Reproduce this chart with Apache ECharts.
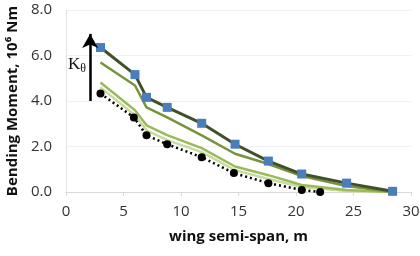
<!DOCTYPE html>
<html>
<head>
<meta charset="utf-8">
<script src="https://cdn.jsdelivr.net/npm/echarts@6/dist/echarts.min.js"></script>
<style>
	html, body { margin: 0; padding: 0; background: #fff; }
	#chart { width: 420px; height: 256px; }
</style>
</head>
<body>
<div id="chart"></div>
<script>
// positions along the semi-span (m)
var spanX = [3, 6, 7, 8.8, 11.8, 14.7, 17.6, 20.5, 24.4, 28.4];
var dotX = [3, 5.9, 7, 8.8, 11.8, 14.6, 17.6, 20.5, 22.1];

// bending moment, 10^6 Nm
var darkLine = [6.35, 5.16, 4.16, 3.72, 3.02, 2.10, 1.36, 0.79, 0.39, 0.03];
var midLine = [5.69, 4.68, 3.72, 3.28, 2.49, 1.68, 1.23, 0.70, 0.26, 0.0];
var lightLine = [4.81, 3.59, 2.93, 2.50, 1.93, 1.12, 0.74, 0.31, 0.09, 0.0];
var paleLine = [4.60, 3.37, 2.71, 2.28, 1.75, 0.96, 0.57, 0.22, 0.04, 0.0];
var dotLine = [4.33, 3.28, 2.49, 2.10, 1.53, 0.83, 0.39, 0.09, 0.0];

var xTicks = [0, 5, 10, 15, 20, 25, 30];
var yTicks = [0, 2, 4, 6, 8];

// arrow for K_theta (x, from y, to y)
var arrowX = 2.1;
var arrowFrom = 4.0;
var arrowTo = 6.95;

function pairs(xs, ys) {
	return ys.map(function (v, i) { return [xs[i], v]; });
}

(function () {
	let myChart = echarts.init(document.getElementById("chart"));
	let labelFont = "'Open Sans', 'Liberation Sans', sans-serif";
	let option = {
		animation: false,
		grid: {
			left: 66,
			right: 9,
			top: 10,
			bottom: 64,
			outerBoundsMode: "none"
		},
		xAxis: {
			type: "value",
			min: xTicks[0],
			max: xTicks[xTicks.length - 1],
			interval: 5,
			name: "wing semi-span, m",
			nameLocation: "middle",
			nameGap: 37,
			nameTextStyle: {
				fontFamily: labelFont,
				fontWeight: "bold",
				fontSize: 15,
				color: "#111"
			},
			axisLine: { lineStyle: { color: "#d9d9d9" } },
			axisTick: { show: true, length: 4, lineStyle: { color: "#d9d9d9" } },
			axisLabel: {
				fontFamily: labelFont,
				fontSize: 15,
				color: "#333",
				margin: 12
			},
			splitLine: { show: false }
		},
		yAxis: {
			type: "value",
			min: yTicks[0],
			max: yTicks[yTicks.length - 1],
			interval: 2,
			name: "Bending Moment, 10\u2076 Nm",
			nameLocation: "middle",
			nameGap: 39,
			nameTextStyle: {
				fontFamily: labelFont,
				fontWeight: "bold",
				fontSize: 15,
				color: "#111"
			},
			axisLine: { show: true, lineStyle: { color: "#e3e3e3" } },
			axisTick: { show: false },
			axisLabel: {
				fontFamily: labelFont,
				fontSize: 15,
				color: "#333",
				margin: 14,
				formatter: function (v) { return v.toFixed(1); }
			},
			splitLine: { lineStyle: { color: "#f0f0f0" } }
		},
		graphic: [
			{
				type: "text",
				left: 68,
				top: 56,
				style: {
					text: "{k|K}{t|\u03b8}",
					rich: {
						k: { fontFamily: "'Liberation Serif', 'DejaVu Serif', serif", fontSize: 17, fill: "#111" },
						t: { fontFamily: "'Liberation Serif', 'DejaVu Serif', serif", fontSize: 12, fill: "#111", padding: [8, 0, 0, 0] }
					}
				}
			}
		],
		series: [
			{
				name: "pale",
				type: "line",
				data: pairs(spanX, paleLine),
				symbol: "none",
				lineStyle: { color: "#c8dba0", width: 2.5 }
			},
			{
				name: "light",
				type: "line",
				data: pairs(spanX, lightLine),
				symbol: "none",
				lineStyle: { color: "#9bbb59", width: 2.5 }
			},
			{
				name: "mid",
				type: "line",
				data: pairs(spanX, midLine),
				symbol: "none",
				lineStyle: { color: "#77933c", width: 2.5 }
			},
			{
				name: "dots",
				type: "line",
				data: pairs(dotX, dotLine),
				symbol: "circle",
				symbolSize: 8,
				itemStyle: { color: "#000" },
				lineStyle: { color: "#000", width: 2.5, type: [2, 3] },
				markLine: {
					silent: true,
					symbol: ["none", "arrow"],
					symbolSize: [12, 14],
					label: { show: false },
					lineStyle: { color: "#000", width: 2.5, type: "solid" },
					data: [[
						{ coord: [arrowX, arrowFrom] },
						{ coord: [arrowX, arrowTo] }
					]]
				}
			},
			{
				name: "dark",
				type: "line",
				data: pairs(spanX, darkLine),
				symbol: "rect",
				symbolSize: 9,
				itemStyle: { color: "#4a7ebb" },
				lineStyle: { color: "#40502a", width: 3 }
			}
		]
	};
	myChart.setOption(option);
	window.addEventListener("resize", function () {
		myChart.resize();
	});
})();
</script>
</body>
</html>
